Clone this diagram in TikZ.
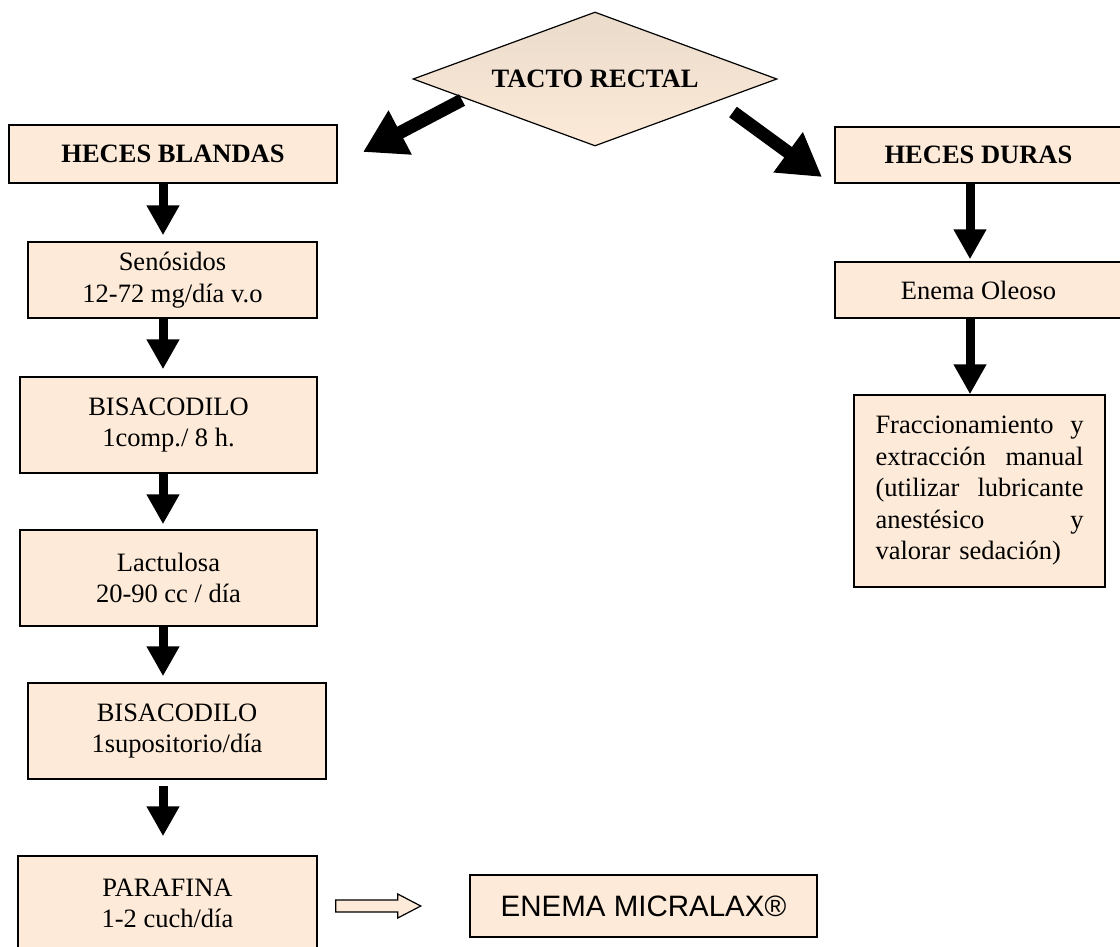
\documentclass[tikz,border=0pt]{standalone}
\usepackage{fontspec}
\setmainfont{Liberation Serif}
\newfontfamily\arialfont{Liberation Sans}
\usetikzlibrary{shapes.geometric,arrows.meta,calc}
\definecolor{peach}{RGB}{253,234,216}
\definecolor{tanA}{RGB}{234,219,203}
\begin{document}
\begin{tikzpicture}[x=1pt,y=-1pt,
  box/.style={draw=black,line width=1.5pt,fill=peach,inner sep=0pt,align=center,
              font=\fontsize{26.5}{31.5}\selectfont},
  downarrow/.style={line width=9pt,-{Triangle[length=30pt,width=31pt]}},
  bigarrow/.style={line width=13pt,-{Triangle[length=42pt,width=47pt]}},
  hollow/.style={draw=black,line width=1.2pt,fill=peach,line join=miter},
]
\useasboundingbox (0,0) rectangle (1120,946);
\clip (0,0) rectangle (1120,946);

% decision
\node[diamond,draw=black,line width=1.2pt,top color=tanA,bottom color=peach,
      minimum width=364pt,minimum height=134pt,inner sep=0pt,aspect=2.7,
      font=\fontsize{26.5}{31.5}\selectfont\bfseries] (tr) at (595,79) {TACTO RECTAL};

% left branch: soft stools
\node[box,minimum width=328pt,minimum height=58pt,font=\fontsize{26.5}{31.5}\selectfont\bfseries]
  (hb) at (173,154) {HECES BLANDAS};
\node[box,minimum width=289pt,minimum height=76pt] (sen) at (172.5,280) {Senósidos\\12-72 mg/día v.o};
\node[box,minimum width=297pt,minimum height=96pt] (bis1) at (168.5,425) {BISACODILO\\1comp./ 8 h.};
\node[box,minimum width=297pt,minimum height=96pt] (lac) at (168.5,578) {Lactulosa\\20-90 cc / día};
\node[box,minimum width=298pt,minimum height=96pt] (bis2) at (177,731) {BISACODILO\\1supositorio/día};
\node[box,minimum width=299pt,minimum height=95pt] (par) at (167.5,903.5) {PARAFINA\\1-2 cuch/día};
\node[box,minimum width=347pt,minimum height=62pt,font=\arialfont\fontsize{29.5}{34}\selectfont]
  (mic) at (643.5,906) {ENEMA MICRALAX®};

% right branch: hard stools
\node[box,minimum width=287pt,minimum height=56pt,font=\fontsize{26.5}{31.5}\selectfont\bfseries]
  (hd) at (978.5,155) {HECES DURAS};
\node[box,minimum width=287pt,minimum height=56pt] (eo) at (978.5,290) {Enema Oleoso};
\node[box,minimum width=251pt,minimum height=192pt,text width=208pt,align=left] (fr) at (979.5,491)
  {\makebox[208pt]{Fraccionamiento\hfill y}\\
   \makebox[208pt]{extracción\hfill manual}\\
   \makebox[208pt]{(utilizar\hfill lubricante}\\
   \makebox[208pt]{anestésico\hfill y}\\
   valorar sedación)};

% diagonal arrows out of the decision
\coordinate (lt) at (462,100);
\coordinate (lh) at (363,152);
\coordinate (rt) at (733,112);
\coordinate (rh) at (822,177);
\draw[bigarrow] (lt) -- (lh);
\draw[bigarrow] (rt) -- (rh);

% vertical arrows
\coordinate (ax) at (163,0);
\coordinate (bx) at (970,0);
\draw[downarrow] (hb.south -| ax) -- ($(sen.north -| ax)+(0,-6)$);
\draw[downarrow] (sen.south -| ax) -- ($(bis1.north -| ax)+(0,-7)$);
\draw[downarrow] (bis1.south -| ax) -- ($(lac.north -| ax)+(0,-5)$);
\draw[downarrow] (lac.south -| ax) -- ($(bis2.north -| ax)+(0,-6)$);
\draw[downarrow] ($(bis2.south -| ax)+(0,6)$) -- ($(par.north -| ax)+(0,-19)$);
\draw[downarrow] (hd.south -| bx) -- ($(eo.north -| bx)+(0,-2)$);
\draw[downarrow] (eo.south -| bx) -- (fr.north -| bx);

% outlined arrow towards the enema
\coordinate (ha) at ($(par.east)+(18,2.5)$);
\draw[hollow] (ha) ++(0,-6) -- ++(62,0) -- ++(0,-6) -- ++(23,12) -- ++(-23,12)
  -- ++(0,-6) -- ++(-62,0) -- cycle;
\end{tikzpicture}
\end{document}
